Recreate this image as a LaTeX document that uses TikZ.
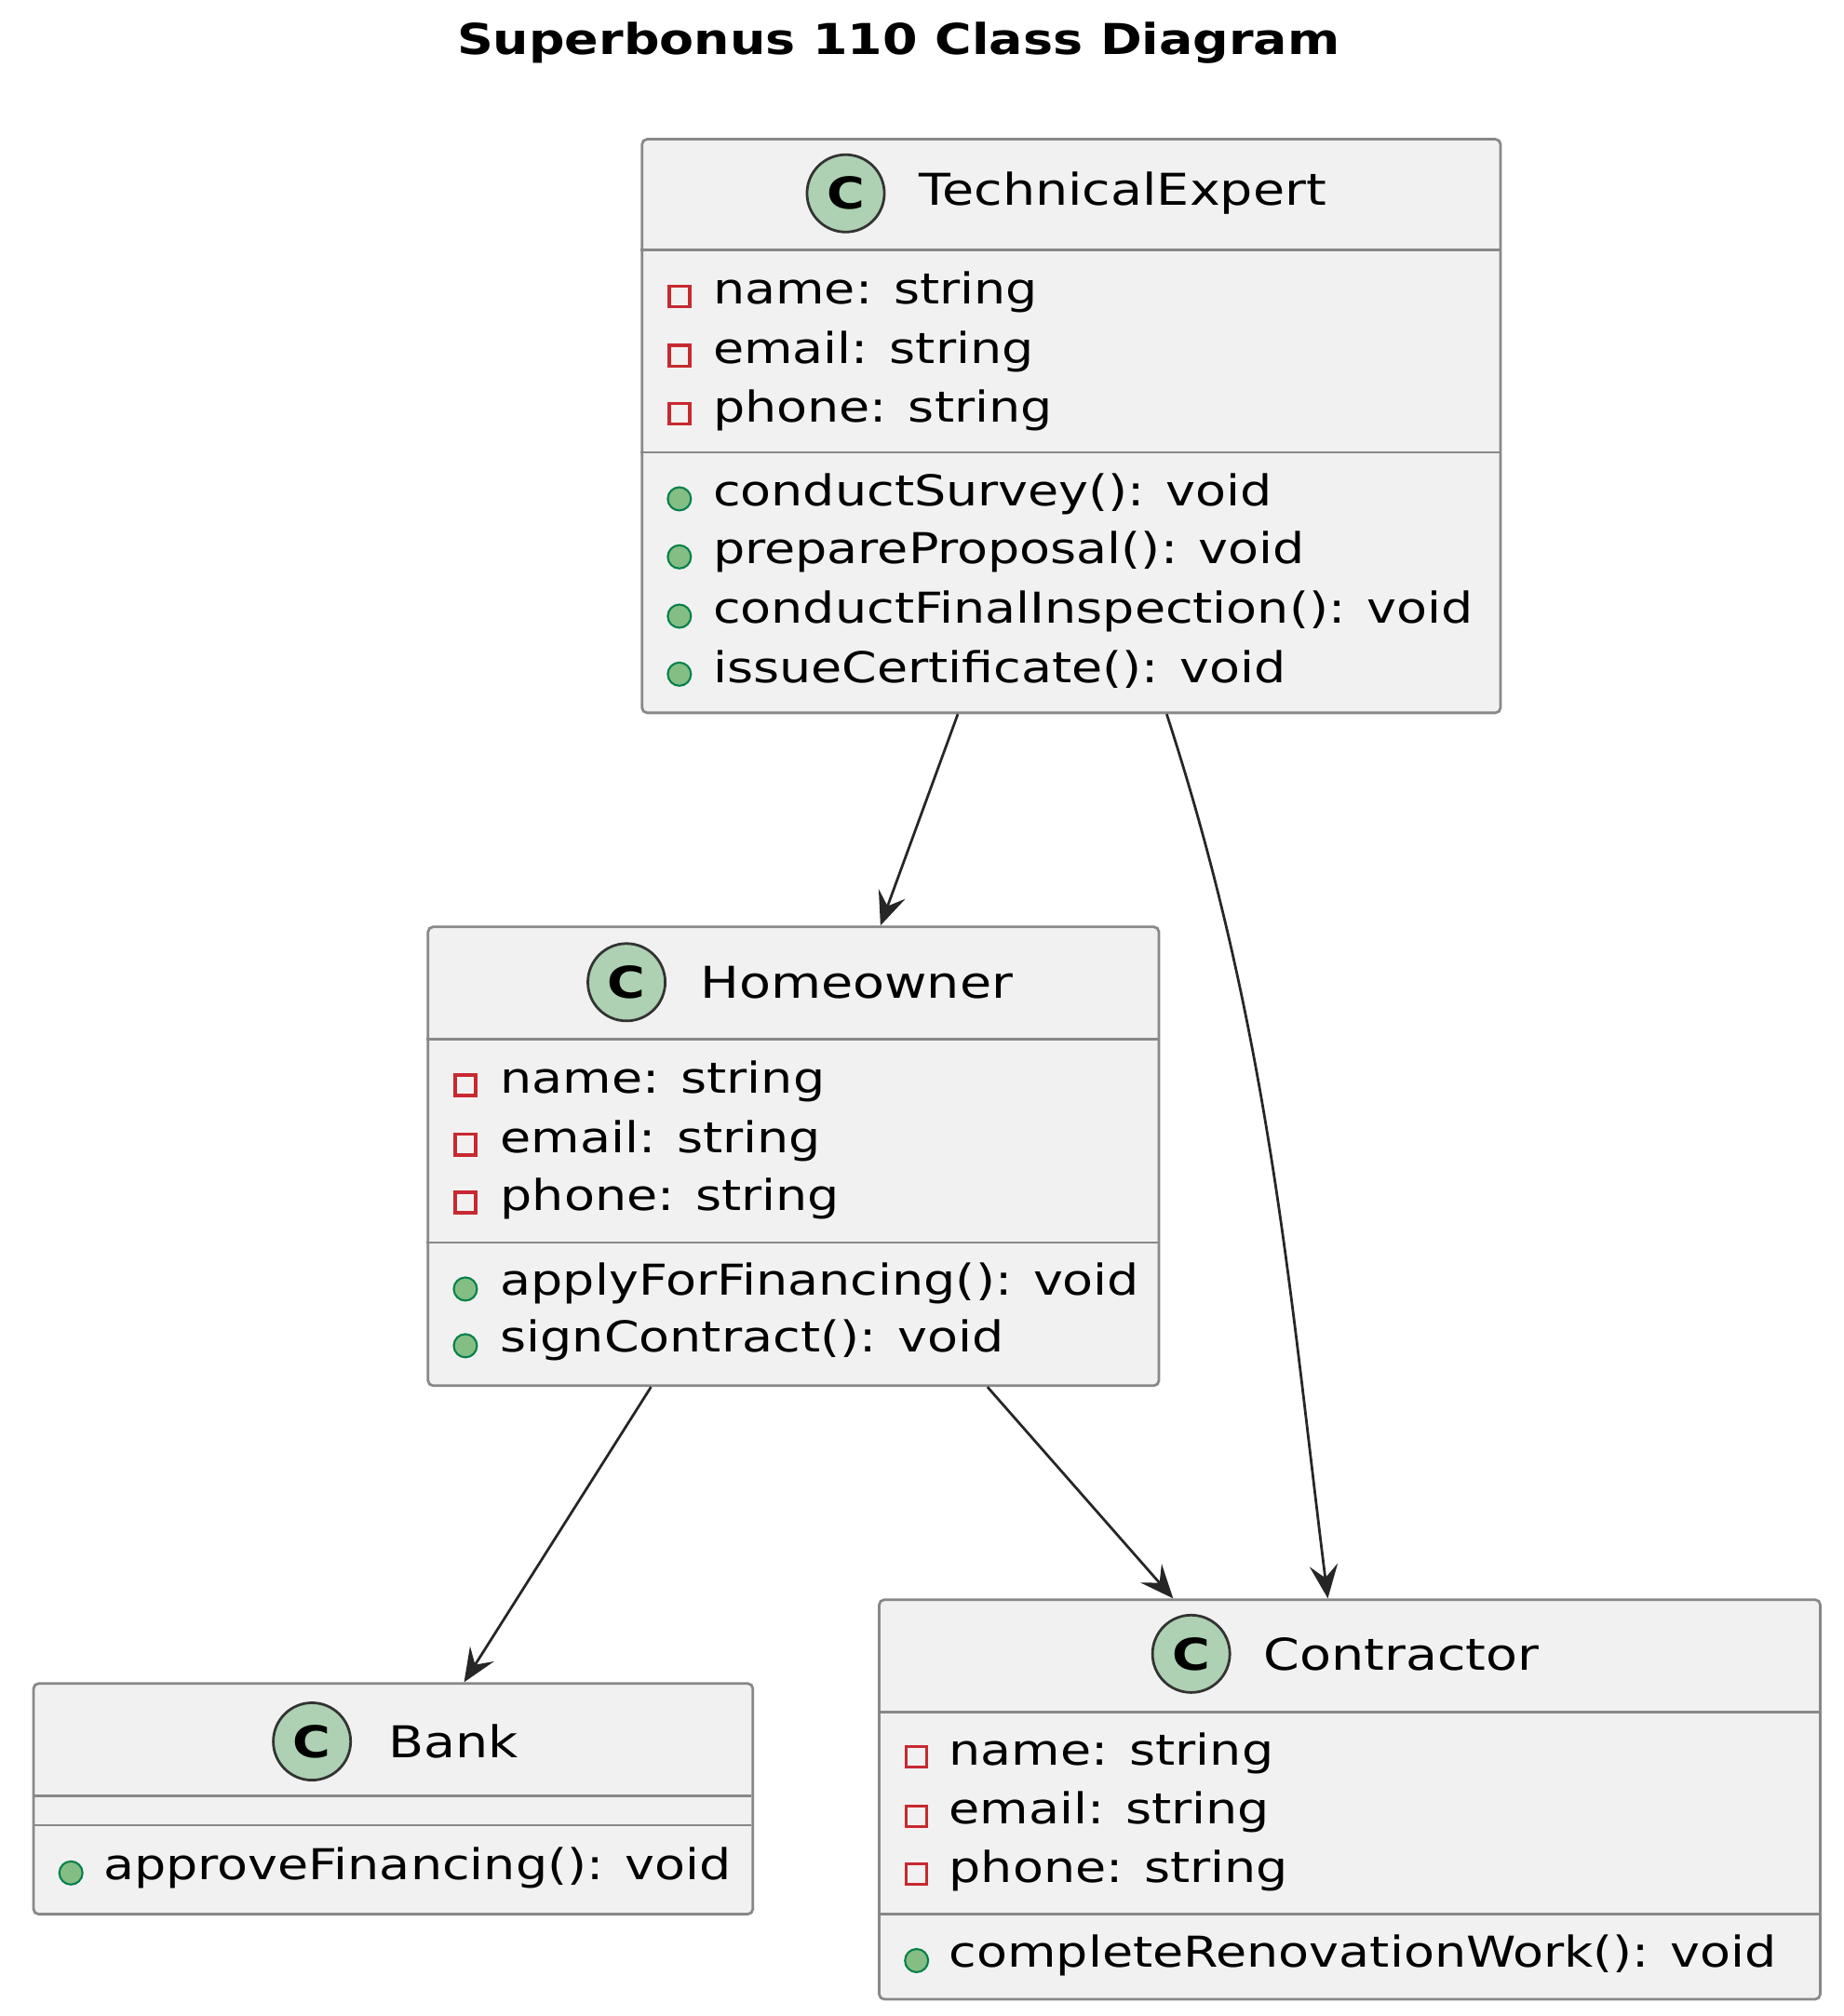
\documentclass[tikz,border=0pt]{standalone}
\usepackage{fontspec}
\setmainfont{DejaVu Sans}[FakeStretch=1.18]
\usetikzlibrary{arrows.meta,calc}
\definecolor{boxfill}{HTML}{F1F1F1}
\definecolor{boxline}{HTML}{888888}
\definecolor{iconfill}{HTML}{ADD1B2}
\definecolor{privred}{HTML}{C82930}
\definecolor{pubgreen}{HTML}{84BE84}
\definecolor{pubdark}{HTML}{038048}
\begin{document}
\begin{tikzpicture}[x=1pt,y=-1pt,
  box/.style={draw=boxline,fill=boxfill,line width=2pt,rounded corners=4pt,anchor=north west,inner sep=0pt},
  sep/.style={draw=boxline,line width=2pt},
  txt/.style={anchor=west,inner sep=0pt,font=\fontsize{33}{40}\selectfont},
  ttl/.style={anchor=west,inner sep=0pt,font=\fontsize{34}{40}\selectfont},
  icon/.style={circle,draw=black!80,fill=iconfill,line width=2pt,minimum size=60pt,inner sep=0pt,font=\fontsize{34}{40}\selectfont\bfseries},
  priv/.style={draw=privred,line width=2.5pt,minimum size=16pt,inner sep=0pt,rectangle},
  pub/.style={circle,draw=pubdark,fill=pubgreen,line width=1.5pt,minimum size=18pt,inner sep=0pt},
  arr/.style={draw=black!85,line width=2pt,-{Stealth[length=26pt,width=22pt,inset=10pt]}}]
\useasboundingbox (0,0) rectangle (1430,1564);
\node[font=\fontsize{33}{38}\selectfont\bfseries] (title) at (697,33) {Superbonus 110 Class Diagram};
% TechnicalExpert
\node[box,minimum width=666pt,minimum height=445pt] (te) at (497,107) {};
\draw[sep] (497,194) -- (1163,194); \draw[sep] (497,351) -- (1163,351);
\node[icon] (tei) at (656,150) {C};
\node[ttl] (tet) at (713,150) {TechnicalExpert};
\foreach \y/\t [count=\i] in {227/name: string,273/email: string,318/phone: string}{
  \node[priv] (tea\i) at (527,\y+3) {}; \node[txt] (teat\i) at (553,\y) {\t};}
\foreach \y/\t [count=\i] in {383/conductSurvey(): void,428/prepareProposal(): void,474/conductFinalInspection(): void,519/issueCertificate(): void}{
  \node[pub] (tem\i) at (527,\y+4) {}; \node[txt] (temt\i) at (553,\y) {\t};}
% Homeowner
\node[box,minimum width=567pt,minimum height=356pt] (ho) at (331,718) {};
\draw[sep] (331,806) -- (898,806); \draw[sep] (331,964) -- (898,964);
\node[icon] (hoi) at (486,762) {C};
\node[ttl] (hot) at (543,762) {Homeowner};
\foreach \y/\t [count=\i] in {839/name: string,885/email: string,930/phone: string}{
  \node[priv] (hoa\i) at (361,\y+3) {}; \node[txt] (hoat\i) at (388,\y) {\t};}
\foreach \y/\t [count=\i] in {996/applyForFinancing(): void,1040/signContract(): void}{
  \node[pub] (hom\i) at (361,\y+4) {}; \node[txt] (homt\i) at (388,\y) {\t};}
% Bank
\node[box,minimum width=558pt,minimum height=179pt] (bk) at (25,1305) {};
\draw[sep] (25,1393) -- (583,1393); \draw[sep] (25,1416) -- (583,1416);
\node[icon] (bki) at (242,1351) {C};
\node[ttl] (bkt) at (301,1351) {Bank};
\node[pub] (bkm1) at (55,1453) {}; \node[txt] (bkmt1) at (80,1449) {approveFinancing(): void};
% Contractor
\node[box,minimum width=730pt,minimum height=310pt] (co) at (681,1240) {};
\draw[sep] (681,1328) -- (1411,1328); \draw[sep] (681,1485) -- (1411,1485);
\node[icon] (coi) at (924,1283) {C};
\node[ttl] (cot) at (980,1283) {Contractor};
\foreach \y/\t [count=\i] in {1360/name: string,1406/email: string,1451/phone: string}{
  \node[priv] (coa\i) at (711,\y+3) {}; \node[txt] (coat\i) at (736,\y) {\t};}
\node[pub] (com1) at (711,1521) {}; \node[txt] (comt1) at (736,1517) {completeRenovationWork(): void};
% connectors
\draw[arr] ($(te.south west)+(246,0)$) -- ($(ho.north west)+(352,0)$);
\draw[arr] ($(te.south west)+(408,0)$) .. controls (985,800) and (1000,1000) .. ($(co.north west)+(349,0)$);
\draw[arr] ($(ho.south west)+(174,0)$) -- ($(bk.north west)+(335,0)$);
\draw[arr] ($(ho.south west)+(435,0)$) -- ($(co.north west)+(229,0)$);
\end{tikzpicture}
\end{document}
